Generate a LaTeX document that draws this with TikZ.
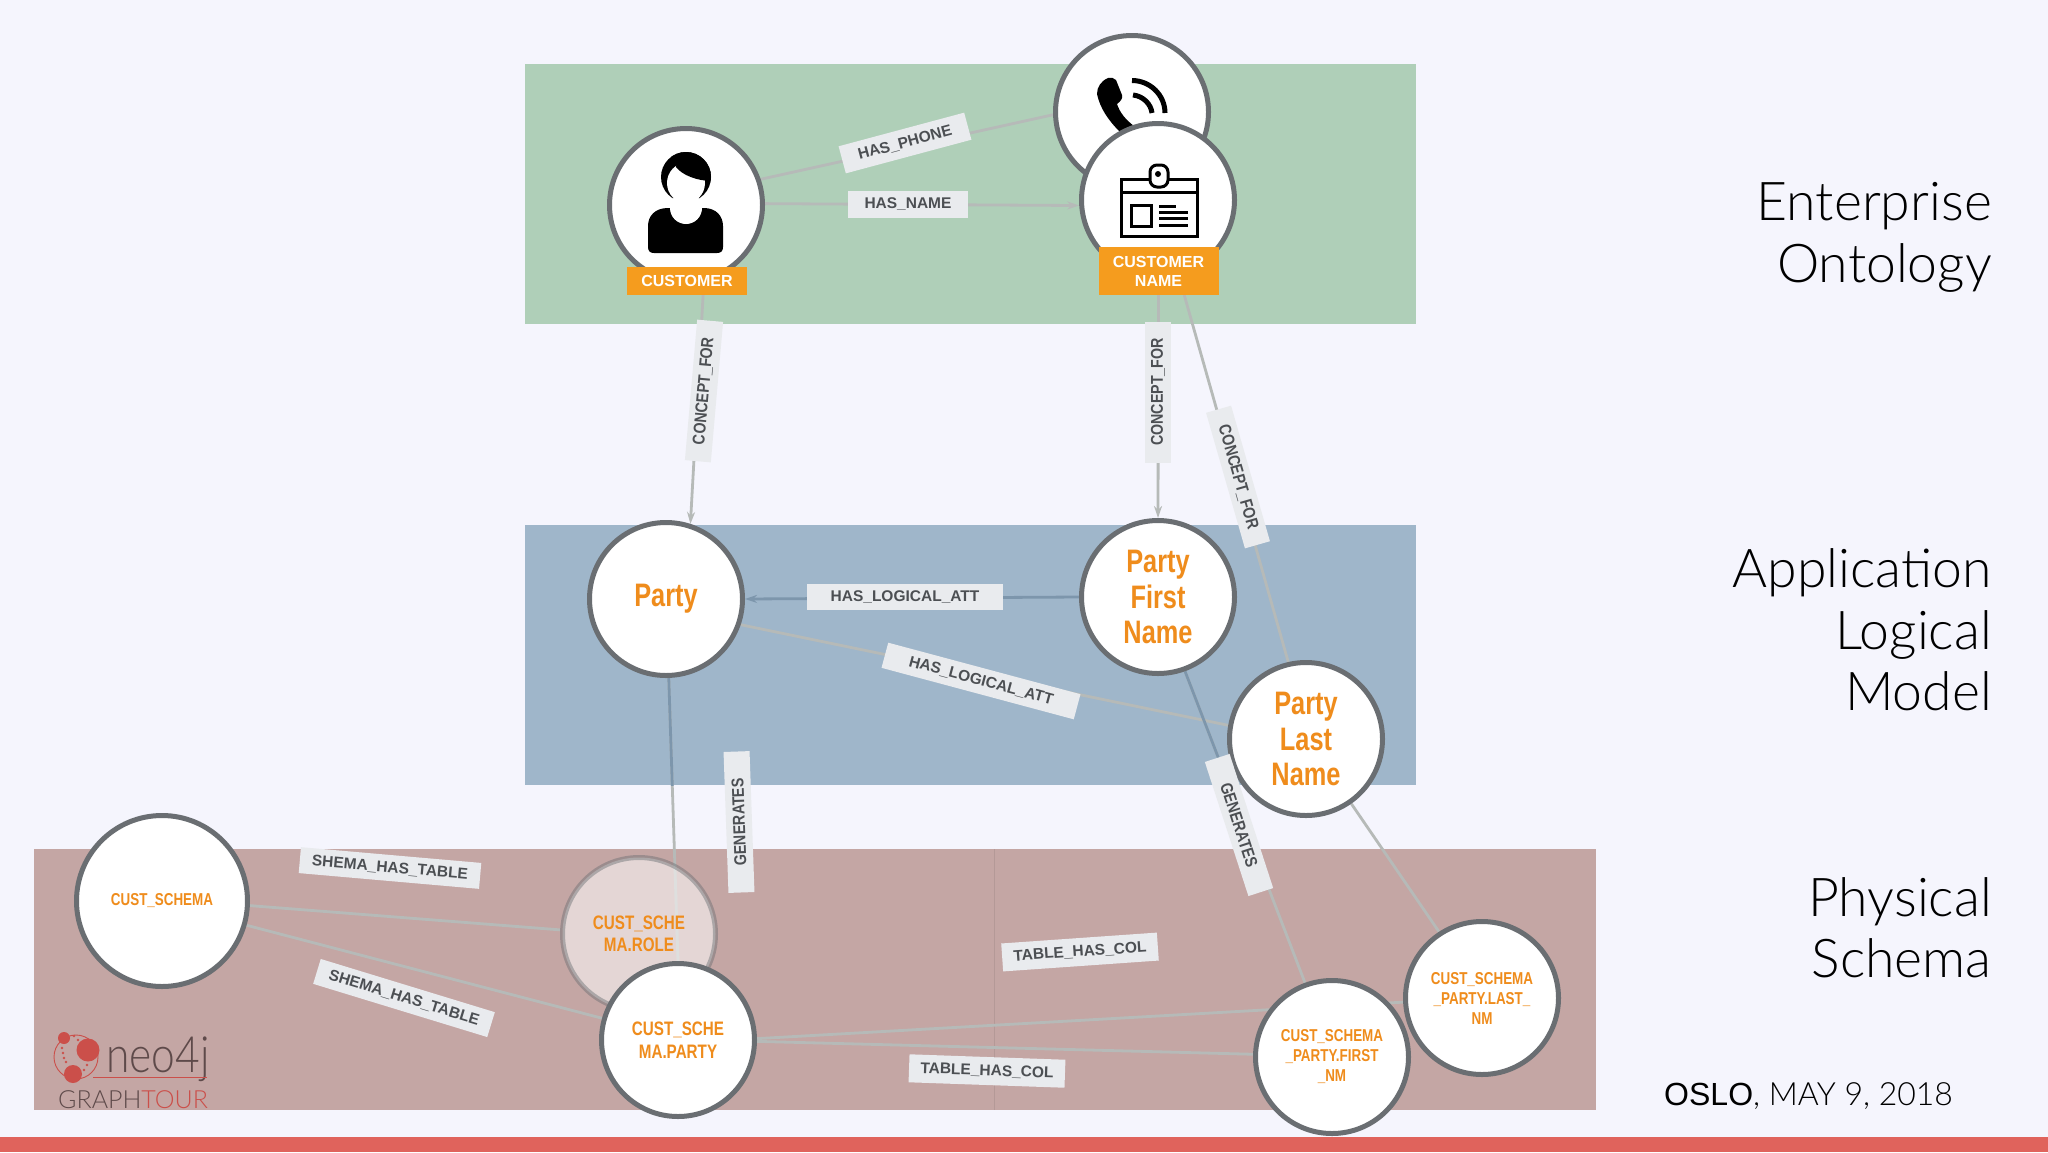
\documentclass[tikz,border=0pt]{standalone}
\usepackage{fontspec}
\usetikzlibrary{arrows.meta}
\setmainfont{Liberation Sans}
\newfontfamily\ocond[FakeStretch=0.78]{Liberation Sans}
\newfontfamily\thinf{Lato Light}
\newfontfamily\lsans{Liberation Sans}
\definecolor{bgc}{HTML}{F5F5FD}
\definecolor{bandg}{HTML}{AFCFB8}
\definecolor{bandb}{HTML}{9FB6CA}
\definecolor{bandr}{HTML}{C4A6A4}
\definecolor{barc}{HTML}{E0635C}
\definecolor{orangetxt}{HTML}{EF8C1C}
\definecolor{tagc}{HTML}{F59C1E}
\definecolor{ring}{HTML}{6A6E72}
\definecolor{lblbg}{HTML}{E9EBEE}
\definecolor{lbltxt}{HTML}{4C4F53}
\definecolor{edgec}{HTML}{B6BAB8}
\definecolor{edgedark}{HTML}{7D96AC}
\definecolor{logor}{HTML}{CB4F4A}
\definecolor{logod}{HTML}{5E4A4A}
\newcommand\vtxt[1]{\scalebox{0.92}[1.1]{#1}}
\pgfdeclarelayer{edgelayer}
\pgfdeclarelayer{bandlayer}
\pgfsetlayers{bandlayer,edgelayer,main}
\tikzset{
  graphnode/.style={circle,draw=ring,line width=5pt,fill=white,inner sep=0pt,outer sep=2.5pt,minimum size=153pt,text=orangetxt,align=center},
  bigtxt/.style={font=\ocond\bfseries\fontsize{32.5}{35.5}\selectfont},
  midtxt/.style={font=\ocond\bfseries\fontsize{19.5}{22.5}\selectfont},
  smalltxt/.style={font=\ocond\bfseries\fontsize{17.2}{20}\selectfont},
  tagbox/.style={fill=tagc,text=white,font=\lsans\bfseries\fontsize{16}{19}\selectfont,inner sep=0pt,outer sep=0pt,align=center,minimum width=120pt},
  lblbox/.style={fill=lblbg,text=lbltxt,font=\lsans\bfseries\fontsize{15.5}{18}\selectfont,inner sep=0pt,outer sep=0pt,minimum height=26pt},
  edgeline/.style={draw=edgec,line width=2.8pt},
  darkedge/.style={draw=edgedark,line width=2.8pt},
  tiparrow/.style={-{Stealth[length=12pt,width=8pt]}},
  heading/.style={anchor=base east,font=\thinf\fontsize{53.5}{60}\selectfont,text=black,inner sep=0pt},
}
\begin{document}
\begin{tikzpicture}[x=1pt,y=-1pt]
\useasboundingbox (0,0) rectangle (2048,1152);
\begin{pgfonlayer}{bandlayer}
\fill[bgc] (0,0) rectangle (2048,1152);
\fill[bandg] (525,64) rectangle (1416,324);
\fill[bandb] (525,525) rectangle (1416,785);
\fill[bandr] (34,849) rectangle (1596,1110);
\draw[bandr!92!black,line width=.6pt] (994,849) -- (994,1110);
\fill[barc] (0,1137) rectangle (2048,1152);
\end{pgfonlayer}

% circles
\node[graphnode] (phone) at (1132,112) {};
\fill[black] (1108,78) .. controls (1111,77) and (1114,78) .. (1116,80) -- (1122,95)
  .. controls (1123,98) and (1121,101) .. (1117,104) .. controls (1120,113) and (1126,120) .. (1134,126)
  -- (1120,132) .. controls (1108,120) and (1100,108) .. (1097,94) .. controls (1097,87) and (1101,81) .. (1108,78) -- cycle;
\draw[black,line width=5pt] (1132,80.5) .. controls (1150,80.5) and (1165,95) .. (1165,113);
\draw[black,line width=5pt] (1133,95) .. controls (1143,96) and (1151,104) .. (1152,113);
\node[graphnode] (customer) at (686,205) {};
\node[graphnode] (custname) at (1158,200) {};
\node[graphnode,bigtxt] (party) at (666,599) {\raisebox{-4pt}{Party}};
\node[graphnode,bigtxt] (pfn) at (1158,597) {Party\\First\\Name};
\node[graphnode,bigtxt] (pln) at (1306,739) {Party\\Last\\Name};
\node[graphnode,minimum size=171pt,smalltxt] (schema) at (162,901) {CUST\_SCHEMA};
\node[graphnode,fill opacity=.55,draw opacity=.45,text opacity=1,midtxt] (role) at (639,934) {CUST\_SCHE\\MA.ROLE};
\node[graphnode,midtxt] (parttable) at (678,1040) {CUST\_SCHE\\MA.PARTY};
\node[graphnode,smalltxt] (last) at (1482,998) {CUST\_SCHEMA\\\_PARTY.LAST\_\\NM};
\node[graphnode,smalltxt] (first) at (1332,1057) {CUST\_SCHEMA\\\_PARTY.FIRST\\\_NM};
\node[tagbox,minimum height=28pt] (custtag) at (687,281) {CUSTOMER};
\node[tagbox,minimum height=48pt] (custnametag) at (1158.5,271) {CUSTOMER\\NAME};

% connectors
\begin{pgfonlayer}{edgelayer}
\draw[edgeline] (customer.19) -- (phone.182);
\draw[edgeline,tiparrow] (customer.1) -- (custname.184);
\draw[edgeline,tiparrow] (custtag.-41) -- (party.72);
\draw[edgeline,tiparrow] (custnametag.south) -- (pfn.north);
\draw[edgeline] (custnametag.-43) -- (pln.103);
\draw[darkedge,tiparrow] (pfn.180) -- (party.0);
\draw[edgeline] (pln.170) -- (party.-19);
\draw[edgeline] (party.-88) -- (parttable.north);
\draw[edgeline] (pfn.-70) -- (first.110);
\begin{scope}
\clip (525,525) rectangle (1416,785);
\draw[darkedge] (party.-88) -- (parttable.north);
\draw[darkedge] (pfn.-70) -- (first.110);
\end{scope}
\draw[edgeline] (pln.-55) -- (last.123);
\draw[edgeline] (schema.-3) -- (role.177);
\draw[edgeline] (schema.-16) -- (parttable.164);
\draw[edgeline] (parttable.1.5) -- (last.183);
\draw[edgeline] (parttable.-1) -- (first.178);
\end{pgfonlayer}

% person icon
\fill[black] (686,177) circle[radius=25];
\fill[white] (686,183) ellipse[x radius=19,y radius=20];
\begin{scope}
\clip (686,177) circle[radius=25];
\fill[black] (671,170) .. controls (675,160) and (678,157) .. (676,167) .. controls (682,175) and (697,181) .. (712,181) -- (712,150) -- (671,150) -- cycle;
\end{scope}
\fill[black] (648,247) -- (648,226) .. controls (648,216) and (655,208) .. (668,208) -- (704,208) .. controls (716,208) and (723,216) .. (723,226) -- (723,247) .. controls (723,251) and (721,253) .. (717,253) -- (654,253) .. controls (650,253) and (648,251) .. (648,247) -- cycle;
\fill[white] (686,208) circle[radius=16];
% badge icon
\begin{scope}[line width=3pt,draw=black]
\draw[fill=white] (1121,179) rectangle (1197,236);
\draw (1121,192) -- (1197,192);
\draw[fill=white,rounded corners=7pt] (1150,187) -- (1150,165) -- (1168,165) -- (1168,187) -- cycle;
\fill[black] (1158,174) circle[radius=3];
\draw (1131,205) rectangle (1151,226);
\draw (1159,206) -- (1176,206);
\draw (1159,212.5) -- (1188,212.5);
\draw (1159,218.5) -- (1188,218.5);
\draw (1159,225) -- (1188,225);
\end{scope}

% connector labels
\node[lblbox,minimum width=130pt,minimum height=28pt,rotate=15] (l1) at (905,143) {HAS\_PHONE};
\node[lblbox,minimum width=120pt,minimum height=27pt] (l2) at (908,204) {HAS\_NAME};
\node[lblbox,minimum width=141pt,rotate=85] (l3) at (704,391) {\vtxt{CONCEPT\_FOR}};
\node[lblbox,minimum width=141pt,rotate=90] (l4) at (1158,392) {\vtxt{CONCEPT\_FOR}};
\node[lblbox,minimum width=141pt,rotate=-74] (l5) at (1238,477) {\vtxt{CONCEPT\_FOR}};
\node[lblbox,minimum width=196pt] (l6) at (905,597) {HAS\_LOGICAL\_ATT};
\node[lblbox,minimum width=199pt,rotate=-15] (l7) at (981,681) {HAS\_LOGICAL\_ATT};
\node[lblbox,minimum width=141pt,rotate=92] (l8) at (739,822) {\vtxt{GENERATES}};
\node[lblbox,minimum width=141pt,rotate=-72] (l9) at (1239,825) {\vtxt{GENERATES}};
\node[lblbox,minimum width=181pt,rotate=-5] (l10) at (390,868) {SHEMA\_HAS\_TABLE};
\node[lblbox,minimum width=182pt,rotate=-17] (l11) at (404,998) {SHEMA\_HAS\_TABLE};
\node[lblbox,minimum width=156pt,minimum height=28pt,rotate=4] (l12) at (1080,952) {TABLE\_HAS\_COL};
\node[lblbox,minimum width=156pt,minimum height=28pt,rotate=-2] (l13) at (987,1071) {TABLE\_HAS\_COL};

% headings
\node[heading] (h1) at (1992,220) {Enterprise};
\node[heading] (h2) at (1992,282) {Ontology};
\node[heading] (h3) at (1992,587) {Application};
\node[heading] (h4) at (1992,649) {Logical};
\node[heading] (h5) at (1992,710) {Model};
\node[heading] (h6) at (1992,916) {Physical};
\node[heading] (h7) at (1992,977) {Schema};
\node[anchor=base west,inner sep=0pt,text=black,font=\thinf\fontsize{32}{36}\selectfont] (date) at (1664,1105) {{\lsans OSLO}, MAY 9, 2018};

% logo
\draw[logor,line width=.9pt] (76,1057) circle[radius=22];
\fill[logor] (88,1050) circle[radius=11.5];
\fill[logor] (64,1038) circle[radius=6];
\fill[logor] (73,1074) circle[radius=9];
\foreach \px/\py in {74/1036,78/1040,62/1048,63/1053,64/1058,66/1062,87/1065,84/1070}{\fill[logor] (\px,\py) circle[radius=1.4];}
\node[anchor=base west,inner sep=0pt,text=logod,font=\thinf\fontsize{50}{50}\selectfont] (neo) at (106,1072) {\scalebox{.85}[1]{neo4j}};
\draw[logor,line width=1pt] (93,1077) -- (207,1077);
\node[anchor=base west,inner sep=0pt,font=\thinf\fontsize{25}{25}\selectfont] (gt) at (58,1108) {\textcolor{logod}{GRAPH}\textcolor{logor}{TOUR}};
\end{tikzpicture}
\end{document}
